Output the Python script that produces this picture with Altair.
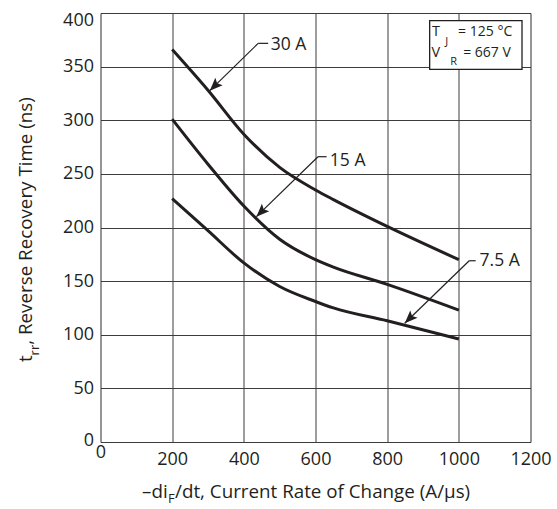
import altair as alt
import pandas as pd

# Reverse recovery time t_rr (ns) versus -diF/dt (A/µs), TJ = 125 °C, VR = 667 V
rate = [200, 300, 400, 500, 600, 650, 800, 1000]
trr_30a = [366, 328, 287, 256, 235, 226, 201, 170]
trr_15a = [301, 259, 220, 189, 170, 163, 147, 123]
trr_7a5 = [227, 197, 167, 145, 131, 125, 113, 96]
series = ["30 A", "15 A", "7.5 A"]

x_ticks = [0, 200, 400, 600, 800, 1000, 1200]
y_ticks = [0, 50, 100, 150, 200, 250, 300, 350, 400]

# Callouts (data units): label anchor, leader bend, end of the short dash, arrow tip
label_x = [475, 640, 1058]
label_y = [365.5, 257.6, 164.1]
bend_x = [440, 607, 1029]
bend_y = [371.7, 266.0, 169.0]
dash_x = [468, 631, 1047]
tip_x = [305, 435, 849]
tip_y = [327.6, 210.1, 110.7]

INK = "#231f20"
FONT = "Open Sans"

curves = pd.DataFrame({
    "rate": rate * 3,
    "trr": trr_30a + trr_15a + trr_7a5,
    "series": [s for s in series for _ in rate],
})

xscale = alt.Scale(domain=[0, 1200], nice=False, zero=False)
yscale = alt.Scale(domain=[0, 400], nice=False, zero=False)

xaxis = alt.Axis(
    values=x_ticks, format="d", title=None, grid=True, gridColor="#3c3c3c", gridWidth=1,
    domain=False, ticks=False, labelFontSize=18, labelColor=INK, labelFont=FONT,
    labelFlush=False, labelOverlap=False,
    labelPadding={"condition": {"test": "datum.value === 0", "value": 1}, "value": 8},
)
yaxis = alt.Axis(
    values=y_ticks, format="d", title=None, grid=True, gridColor="#3c3c3c", gridWidth=1,
    domain=False, ticks=False, labelFontSize=18, labelColor=INK, labelFont=FONT,
    labelFlush=False, labelOverlap=False, labelPadding=7,
    labelOffset={"condition": [{"test": "datum.value === 400", "value": 7},
                               {"test": "datum.value === 0", "value": -2}], "value": 0},
)


def X(field):
    return alt.X(f"{field}:Q", scale=xscale, axis=xaxis)


def Y(field):
    return alt.Y(f"{field}:Q", scale=yscale, axis=yaxis)


lines = alt.Chart(curves).mark_line(
    color=INK, strokeWidth=3, interpolate="monotone"
).encode(x=X("rate"), y=Y("trr"), detail="series:N")

# leader lines: short horizontal dash plus the diagonal down to the curve
leaders = pd.DataFrame({
    "x": bend_x + bend_x,
    "y": bend_y + bend_y,
    "x2": dash_x + tip_x,
    "y2": bend_y + tip_y,
})
leader_rules = alt.Chart(leaders).mark_rule(color=INK, strokeWidth=1.2).encode(
    x=X("x"), y=Y("y"), x2="x2:Q", y2="y2:Q"
)

tips = pd.DataFrame({"x": tip_x, "y": tip_y})
arrowheads = alt.Chart(tips).mark_point(
    shape="M0,0L-0.4,1L0,0.8L0.4,1Z", filled=True, size=676, angle=225,
    color=INK, opacity=1, strokeWidth=0
).encode(x=X("x"), y=Y("y"))

callouts = pd.DataFrame({"x": label_x, "y": label_y, "label": series})
callout_text = alt.Chart(callouts).mark_text(
    align="left", baseline="alphabetic", fontSize=17.5, font=FONT, color=INK
).encode(x=X("x"), y=Y("y"), text="label:N")

# conditions box
box = alt.Chart(pd.DataFrame({"x": [918.6], "x2": [1176.3], "y": [347.5], "y2": [392.8]})).mark_rect(
    fill="white", stroke=INK, strokeWidth=1.3
).encode(x=X("x"), x2="x2:Q", y=Y("y"), y2="y2:Q")

box_sym = pd.DataFrame({"x": [925.0, 923.5], "y": [378.2, 359.0], "t": ["T", "V"]})
box_val = pd.DataFrame({"x": [998.0, 1012.0], "y": [378.2, 359.0], "t": ["= 125 °C", "= 667 V"]})
box_sub = pd.DataFrame({"x": [962.0, 976.0], "y": [370.6, 351.4], "t": ["J", "R"]})
box_symtext = alt.Chart(box_sym).mark_text(
    align="left", baseline="alphabetic", fontSize=14.5, font=FONT, color=INK
).encode(x=X("x"), y=Y("y"), text="t:N")
box_valtext = alt.Chart(box_val).mark_text(
    align="left", baseline="alphabetic", fontSize=14, font=FONT, color=INK
).encode(x=X("x"), y=Y("y"), text="t:N")
box_subtext = alt.Chart(box_sub).mark_text(
    align="left", baseline="alphabetic", fontSize=11, font=FONT, color=INK
).encode(x=X("x"), y=Y("y"), text="t:N")


def piece(text, px, py, size, angle=0):
    return alt.Chart(pd.DataFrame({"t": [text]})).mark_text(
        align="left", baseline="alphabetic", fontSize=size, angle=angle,
        font=FONT, color=INK
    ).encode(x=alt.value(px), y=alt.value(py), text="t:N")


# axis titles with subscripts, positioned relative to the plot area
x_title = [
    piece("–di", 41.5, 485, 18.8),
    piece("F", 67.5, 490, 13),
    piece("/dt, Current Rate of Change (A/µs)", 74.5, 485, 18.8),
]
y_title = [
    piece("t", -69, 349, 18.8, 270),
    piece("rr", -62, 342.4, 13, 270),
    piece(", Reverse Recovery Time (ns)", -69, 331.8, 18.8, 270),
]

chart = alt.layer(
    lines, leader_rules, arrowheads, callout_text, box,
    box_symtext, box_valtext, box_subtext,
    *x_title, *y_title
).properties(
    width=430, height=429,
    padding={"left": 100.5, "top": 13, "right": 26.5, "bottom": 67},
    autosize=alt.AutoSizeParams(type="none"),
).configure_view(
    stroke=INK, strokeWidth=3
).configure(
    font=FONT, background="white"
)

chart.save("out.html", embed_options={"renderer": "svg", "actions": False})
